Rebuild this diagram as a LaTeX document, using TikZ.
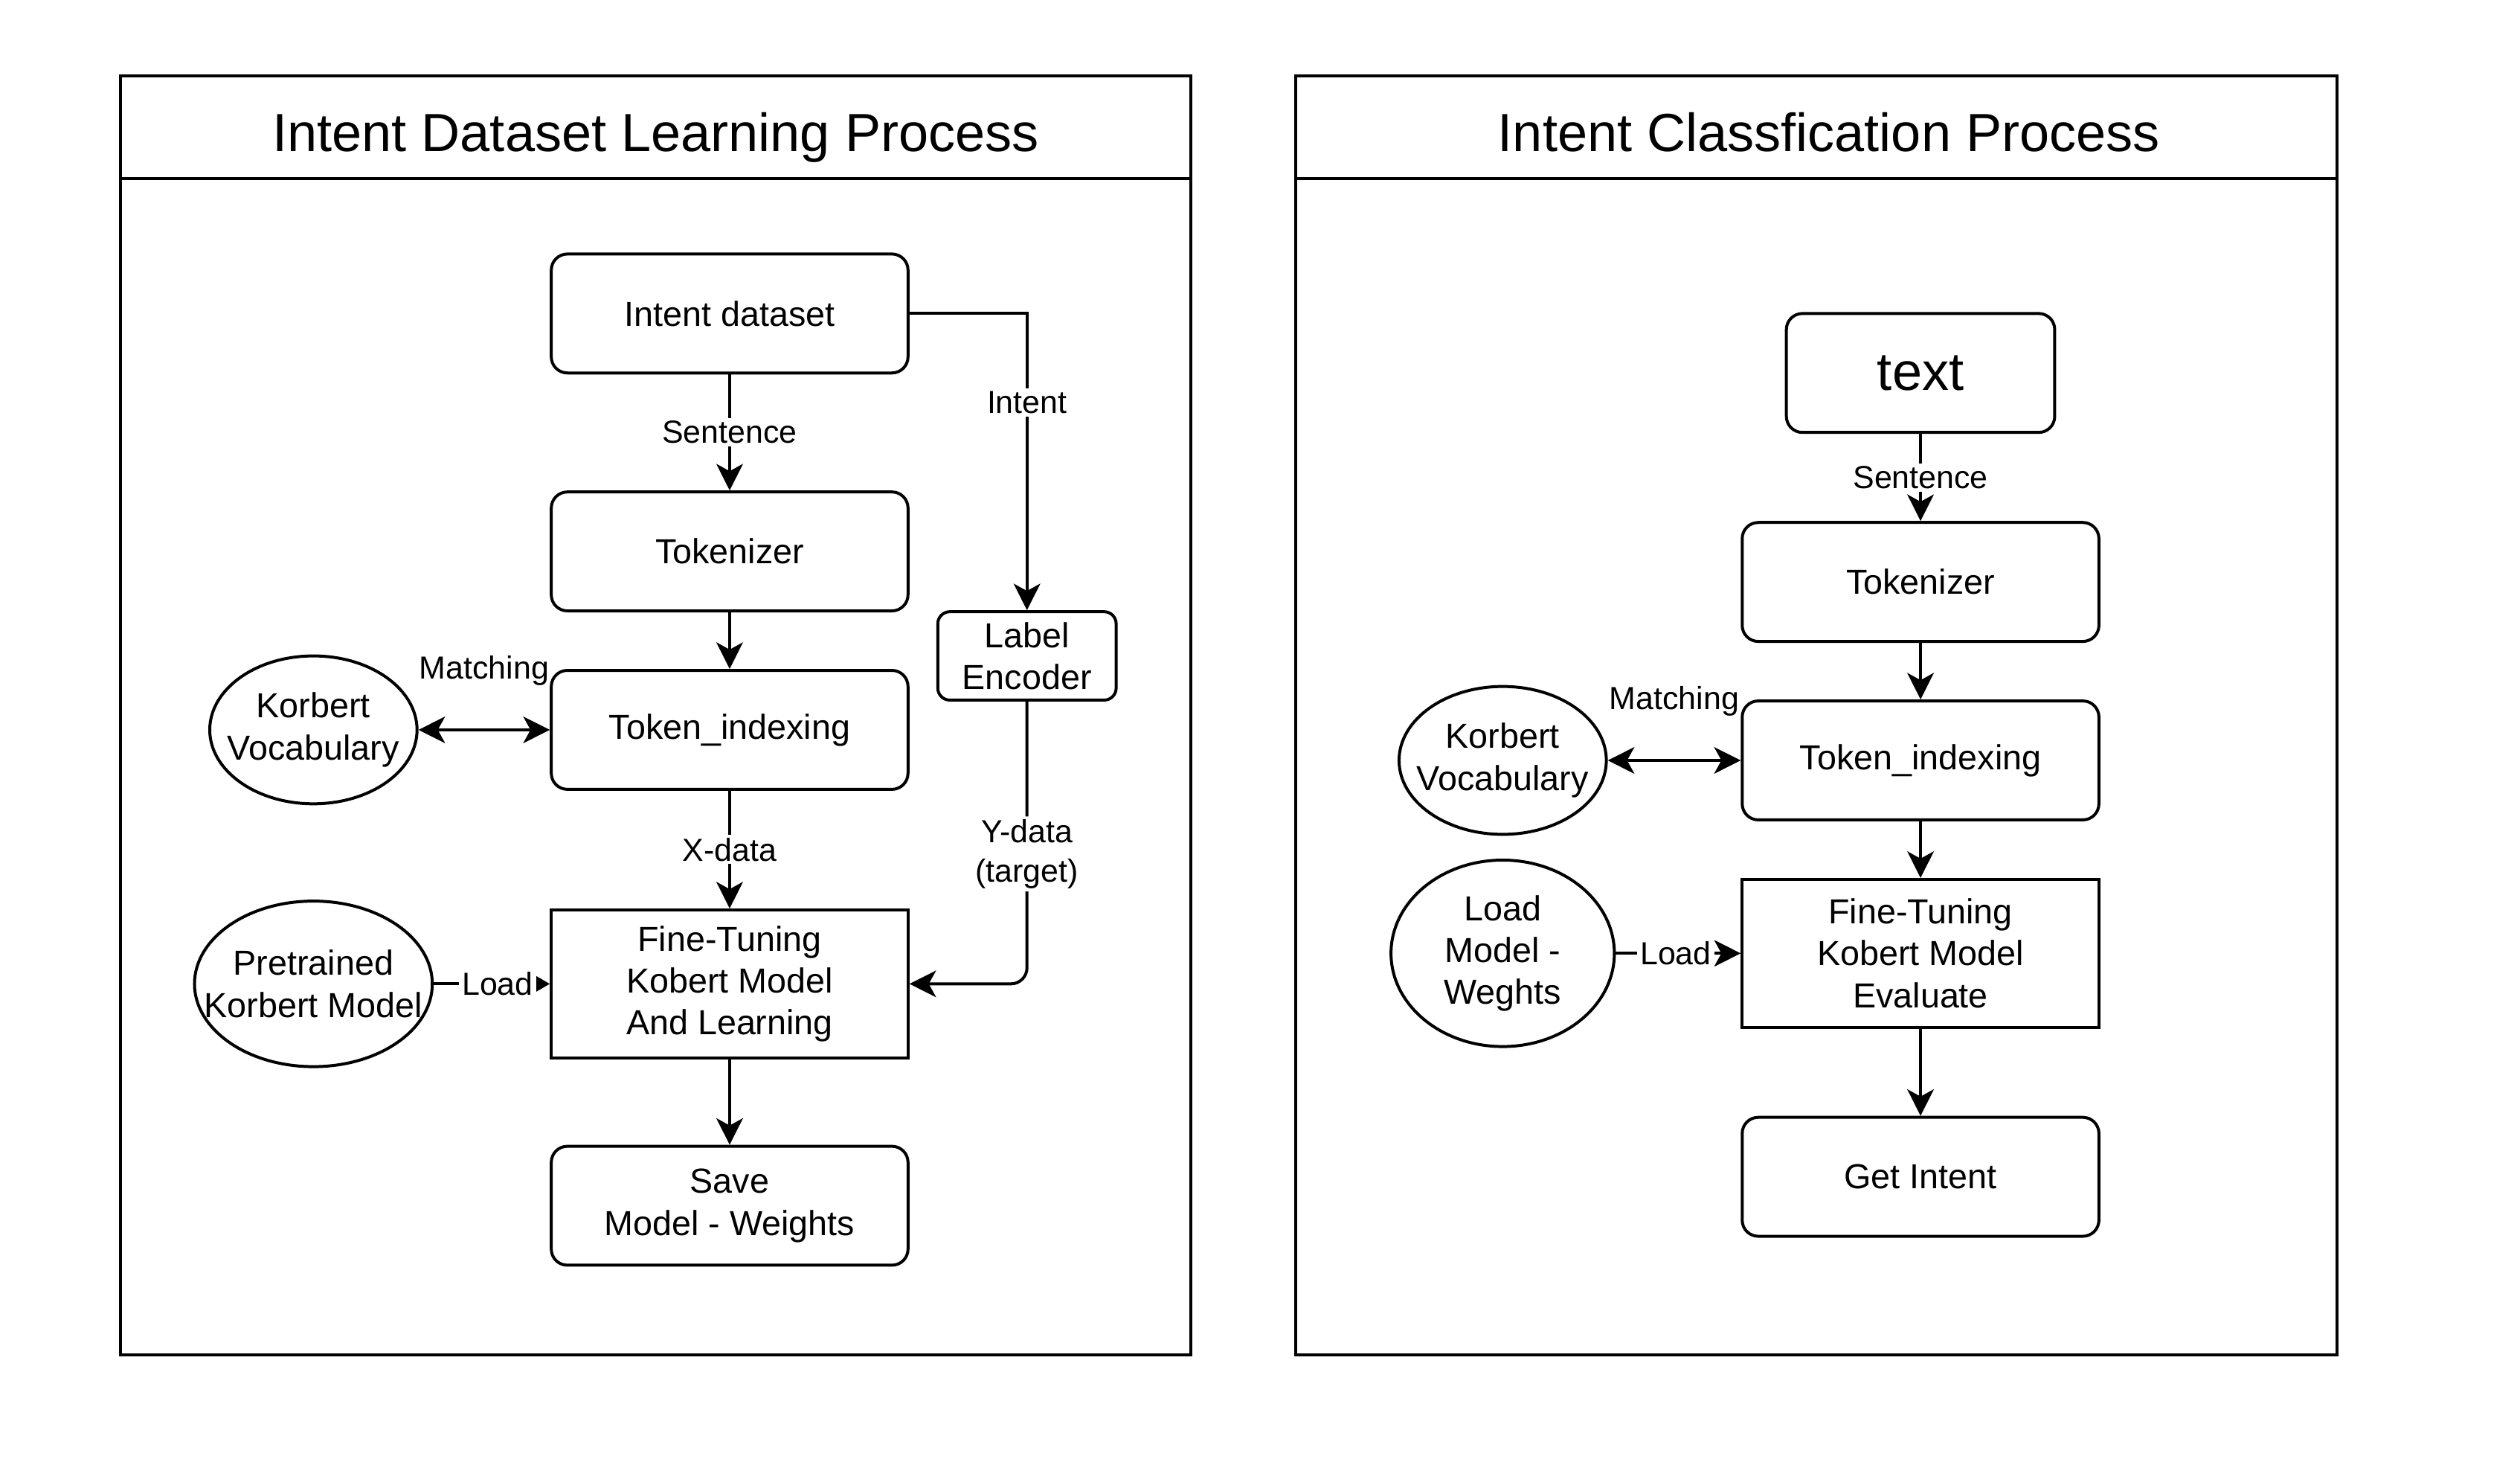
\documentclass[tikz,border=0pt]{standalone}
\usepackage{fontspec}
\setmainfont{Liberation Sans}
\usetikzlibrary{arrows.meta, positioning, shapes.geometric}

\begin{document}
\begin{tikzpicture}[x=0.02cm, y=-0.02cm, line width=1.05pt,
    >={Stealth[length=0.33cm, width=0.33cm, inset=0.09cm]},
    box/.style={draw, rounded corners=0.2cm, minimum width=4.44cm, minimum height=1.48cm, inner sep=0pt, align=center, font=\fontsize{12.3}{14.8}\selectfont},
    sqbox/.style={draw, minimum width=4.44cm, minimum height=1.84cm, inner sep=0pt, align=center, font=\fontsize{12.3}{14.8}\selectfont},
    oval/.style={draw, ellipse, inner sep=0pt},
    ovtext/.style={align=center, font=\fontsize{12.3}{14.8}\selectfont},
    lbl/.style={fill=white, inner sep=1pt, align=center, font=\fontsize{11.3}{14}\selectfont},
    ttl/.style={anchor=base, font=\fontsize{19}{23}\selectfont},
    small/.style={-{Triangle[length=0.19cm, width=0.21cm]}}]
    \useasboundingbox (0,0) rectangle (1568,911);

    \draw (75,47) rectangle (741,843);
    \draw (75,111) -- (741,111);
    \node[ttl] (t1) at (408,94) {Intent Dataset Learning Process};

    \node[box] (ds) at (454,195) {Intent dataset};
    \node[box] (tok) at (454,343) {Tokenizer};
    \node[box] (idx) at (454,454) {Token\_indexing};
    \node[sqbox] (ft) at (454,612) {Fine-Tuning\\Kobert Model\\And Learning};
    \node[box] (save) at (454,750) {Save\\Model - Weights};
    \node[box, minimum width=2.22cm, minimum height=1.1cm, rounded corners=0.15cm] (le) at (639,408) {Label\\Encoder};
    \node[oval, minimum width=2.58cm, minimum height=1.84cm, label={[ovtext]center:Korbert\\Vocabulary}] (voc) at (195,454) {};
    \node[oval, minimum width=2.96cm, minimum height=2.06cm, label={[ovtext]center:Pretrained\\Korbert Model}] (pre) at (195,612) {};

    \draw[->] (ds) -- node[lbl] {Sentence} (tok);
    \draw[->] (ds.east) -| node[lbl, pos=0.65] {Intent} (le.north);
    \draw[->] (tok) -- (idx);
    \draw[<->] (voc) -- node[above=0.5cm, lbl, fill=none] {Matching} (idx);
    \draw[->] (idx) -- node[lbl] {X-data} (ft);
    \draw[->, rounded corners=0.2cm] (le.south) |- node[lbl, pos=0.27] {Y-data\\(target)} (ft.east);
    \draw[small] (pre) -- node[lbl, pos=0.55] {Load} (ft);
    \draw[->] (ft) -- (save);

    \draw (806,47) rectangle (1454,843);
    \draw (806,111) -- (1454,111);
    \node[ttl] (t2) at (1138,94) {Intent Classfication Process};

    \node[box, minimum width=3.34cm, font=\fontsize{19}{23}\selectfont] (txt) at (1195,232) {text};
    \node[box] (tok2) at (1195,362) {Tokenizer};
    \node[box] (idx2) at (1195,473) {Token\_indexing};
    \node[sqbox] (ft2) at (1195,593) {Fine-Tuning\\Kobert Model\\Evaluate};
    \node[box] (get) at (1195,732) {Get Intent};
    \node[oval, minimum width=2.58cm, minimum height=1.84cm, label={[ovtext]center:Korbert\\Vocabulary}] (voc2) at (935,473) {};
    \node[oval, minimum width=2.78cm, minimum height=2.32cm, label={[ovtext]center:Load\\Model -\\Weghts}] (lw) at (935,593) {};

    \draw[->] (txt) -- node[lbl] {Sentence} (tok2);
    \draw[->] (tok2) -- (idx2);
    \draw[<->] (voc2) -- node[above=0.5cm, lbl, fill=none] {Matching} (idx2);
    \draw[->] (idx2) -- (ft2);
    \draw[->] (lw) -- node[lbl, pos=0.48] {Load} (ft2);
    \draw[->] (ft2) -- (get);
\end{tikzpicture}
\end{document}
